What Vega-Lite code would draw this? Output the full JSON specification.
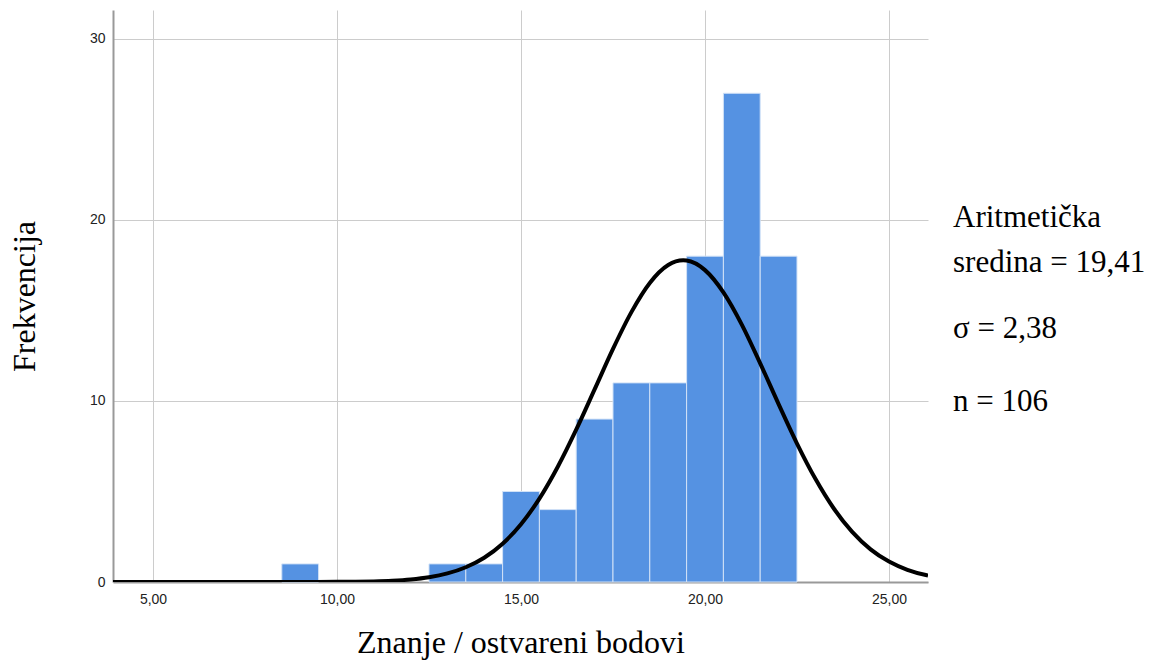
{
  "$schema": "https://vega.github.io/schema/vega-lite/v6.json",
  "autosize": {"type": "none"},
  "width": 815,
  "height": 572,
  "padding": {"left": 113, "top": 10, "right": 228, "bottom": 80},
  "background": "white",
  "config": {
    "view": {"stroke": null},
    "text": {"font": "Liberation Serif"},
    "axis": {
      "labelFont": "Liberation Sans",
      "labelFontSize": 14,
      "labelColor": "#222222",
      "titleFont": "Liberation Serif",
      "titleFontSize": 32,
      "titleFontWeight": "normal",
      "titleColor": "#000000",
      "domainColor": "#999999",
      "domainWidth": 2,
      "gridColor": "#cccccc",
      "gridWidth": 1,
      "ticks": false
    }
  },
  "datasets": {
    "bins": [
      {"start": 8.5, "end": 9.5, "count": 1},
      {"start": 12.5, "end": 13.5, "count": 1},
      {"start": 13.5, "end": 14.5, "count": 1},
      {"start": 14.5, "end": 15.5, "count": 5},
      {"start": 15.5, "end": 16.5, "count": 4},
      {"start": 16.5, "end": 17.5, "count": 9},
      {"start": 17.5, "end": 18.5, "count": 11},
      {"start": 18.5, "end": 19.5, "count": 11},
      {"start": 19.5, "end": 20.5, "count": 18},
      {"start": 20.5, "end": 21.5, "count": 27},
      {"start": 21.5, "end": 22.5, "count": 18}
    ],
    "curve": [
      {"x": 3.913, "y": 0},
      {"x": 6, "y": 0},
      {"x": 8, "y": 0.0002},
      {"x": 9, "y": 0.0012},
      {"x": 10, "y": 0.0072},
      {"x": 10.5, "y": 0.0161},
      {"x": 11, "y": 0.0345},
      {"x": 11.5, "y": 0.0709},
      {"x": 12, "y": 0.1395},
      {"x": 12.5, "y": 0.262},
      {"x": 13, "y": 0.473},
      {"x": 13.5, "y": 0.814},
      {"x": 14, "y": 1.341},
      {"x": 14.5, "y": 2.117},
      {"x": 15, "y": 3.191},
      {"x": 15.5, "y": 4.608},
      {"x": 16, "y": 6.369},
      {"x": 16.5, "y": 8.416},
      {"x": 17, "y": 10.64},
      {"x": 17.5, "y": 12.88},
      {"x": 18, "y": 14.91},
      {"x": 18.5, "y": 16.52},
      {"x": 19, "y": 17.51},
      {"x": 19.41, "y": 17.77},
      {"x": 19.5, "y": 17.76},
      {"x": 20, "y": 17.23},
      {"x": 20.5, "y": 16.0},
      {"x": 21, "y": 14.22},
      {"x": 21.5, "y": 12.08},
      {"x": 22, "y": 9.83},
      {"x": 22.5, "y": 7.65},
      {"x": 23, "y": 5.70},
      {"x": 23.5, "y": 4.06},
      {"x": 24, "y": 2.77},
      {"x": 24.5, "y": 1.805},
      {"x": 25, "y": 1.127},
      {"x": 25.5, "y": 0.673},
      {"x": 26, "y": 0.385},
      {"x": 26.06, "y": 0.359}
    ],
    "stats": [
      {"line1": "Aritmetička", "line2": "sredina = 19,41", "line3": "σ = 2,38", "line4": "n = 106"}
    ]
  },
  "layer": [
    {
      "data": {"name": "bins"},
      "mark": {"type": "rect", "fill": "#5592e2", "stroke": "#d2e2f7", "strokeWidth": 1},
      "encoding": {
        "x": {
          "field": "start",
          "type": "quantitative",
          "scale": {"domain": [3.913, 26.06], "nice": false, "zero": false},
          "axis": {
            "values": [5, 10, 15, 20, 25],
            "grid": true,
            "labelExpr": "replace(format(datum.value, '.2f'), '.', ',')",
            "labelPadding": 10,
            "title": "Znanje / ostvareni bodovi",
            "titlePadding": 21
          }
        },
        "x2": {"field": "end"},
        "y": {
          "field": "count",
          "type": "quantitative",
          "scale": {"domain": [0, 31.6], "nice": false},
          "axis": {
            "values": [0, 10, 20, 30],
            "grid": true,
            "labelPadding": 8,
            "title": "Frekvencija",
            "titlePadding": 48
          }
        },
        "y2": {"datum": 0}
      }
    },
    {
      "data": {"name": "curve"},
      "mark": {"type": "line", "color": "#000000", "strokeWidth": 4, "interpolate": "monotone", "clip": true},
      "encoding": {
        "x": {"field": "x", "type": "quantitative"},
        "y": {"field": "y", "type": "quantitative"}
      }
    },
    {
      "data": {"name": "stats"},
      "mark": {"type": "text", "font": "Liberation Serif", "fontSize": 31, "align": "left", "baseline": "alphabetic", "color": "#000000"},
      "encoding": {"x": {"datum": 26.74}, "y": {"datum": 19.61}, "text": {"field": "line1"}}
    },
    {
      "data": {"name": "stats"},
      "mark": {"type": "text", "font": "Liberation Serif", "fontSize": 31, "align": "left", "baseline": "alphabetic", "color": "#000000"},
      "encoding": {"x": {"datum": 26.74}, "y": {"datum": 17.13}, "text": {"field": "line2"}}
    },
    {
      "data": {"name": "stats"},
      "mark": {"type": "text", "font": "Liberation Serif", "fontSize": 31, "align": "left", "baseline": "alphabetic", "color": "#000000"},
      "encoding": {"x": {"datum": 26.74}, "y": {"datum": 13.48}, "text": {"field": "line3"}}
    },
    {
      "data": {"name": "stats"},
      "mark": {"type": "text", "font": "Liberation Serif", "fontSize": 31, "align": "left", "baseline": "alphabetic", "color": "#000000"},
      "encoding": {"x": {"datum": 26.74}, "y": {"datum": 9.45}, "text": {"field": "line4"}}
    }
  ]
}
